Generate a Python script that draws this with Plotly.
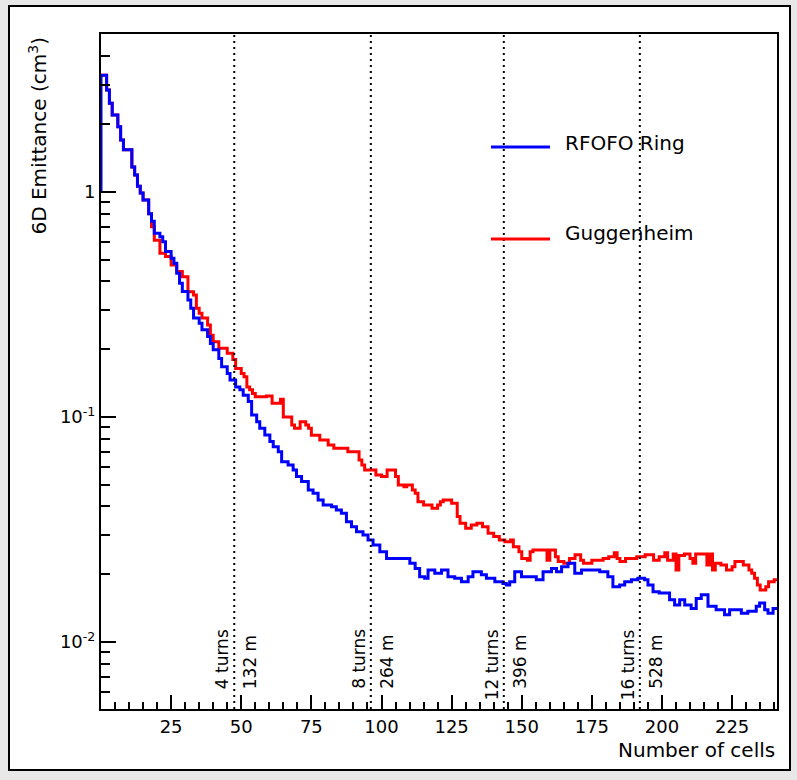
import plotly.graph_objects as go

# ---------------- data ----------------
blue_cells = [0, 0, 2, 3, 4, 6, 7, 8, 11, 12, 13, 14, 15, 17, 18, 19, 21, 22, 23, 25,
              26, 27, 28, 29, 31, 32, 33, 35, 36, 38, 39, 40, 42, 43, 45, 46, 48, 49.5,
              50.7, 52.5, 53.7, 55.5, 56.6, 58.4, 60.2, 61.4, 63.2, 64.4, 66.7, 68.5,
              69.7, 71.5, 73.9, 75.6, 77.4, 79.2, 82.2, 83.9, 85.7, 87.5, 89.3, 91.1,
              93.4, 95.2, 97.0, 99.4, 101.8, 110.1, 112, 113.6, 115.4, 116.6, 119,
              121.4, 123.7, 126.1, 128.5, 130.9, 132.6, 135.6, 137.4, 140.4, 143.3,
              144.5, 145.7, 147.5, 149.9, 155.2, 157.6, 160.6, 162.4, 164.2, 166.5,
              168.9, 171.3, 177.8, 180.7, 182.5, 184.9, 186.7, 189.1, 191.4, 193.8,
              195, 196.8, 199, 202.7, 204.5, 206.3, 208.1, 210.4, 212.2, 214, 216.4,
              219.3, 222.3, 224.1, 228.3, 230.6, 233.6, 234.8, 236.6, 237.8, 239.6, 241]
blue_vals = [1.0, 3.3, 2.84, 2.48, 2.2, 1.95, 1.70, 1.54, 1.29, 1.19, 1.06, 0.99, 0.92,
             0.80, 0.74, 0.655, 0.633, 0.60, 0.543, 0.507, 0.482, 0.435, 0.393, 0.361,
             0.331, 0.304, 0.275, 0.261, 0.244, 0.228, 0.212, 0.199, 0.182, 0.167,
             0.156, 0.146, 0.136, 0.132, 0.125, 0.117, 0.102, 0.0953, 0.0891, 0.0832,
             0.0777, 0.0738, 0.0701, 0.0633, 0.0612, 0.0581, 0.0543, 0.0516, 0.0474,
             0.0458, 0.0428, 0.0406, 0.0399, 0.0386, 0.0373, 0.0342, 0.0325, 0.0309,
             0.0299, 0.0284, 0.0270, 0.0252, 0.0235, 0.0224, 0.0212, 0.0195, 0.0192,
             0.0209, 0.0202, 0.0209, 0.0195, 0.0192, 0.0185, 0.0195, 0.0205, 0.0199,
             0.0192, 0.0185, 0.0182, 0.0179, 0.0185, 0.0205, 0.0195, 0.0189, 0.0205,
             0.0212, 0.0205, 0.0216, 0.0224, 0.0202, 0.0209, 0.0205, 0.0195, 0.0176,
             0.0179, 0.0185, 0.0189, 0.0192, 0.0189, 0.0179, 0.0167, 0.0165, 0.0154,
             0.0146, 0.0154, 0.0146, 0.0141, 0.0156, 0.0162, 0.0144, 0.0139, 0.0132,
             0.0139, 0.0134, 0.0137, 0.0144, 0.0149, 0.0139, 0.0134, 0.0141, 0.0141]

red_cells = [0, 2, 3, 4, 6, 7, 8, 11, 12, 13, 14, 15, 17, 18, 19, 21, 23, 25, 27, 29,
             31, 33, 34, 35, 36, 38, 39, 40, 42, 45, 47, 48, 50, 51, 52, 53, 54, 55, 59,
             61, 64, 65, 68, 69, 71, 73, 74, 75, 78, 81, 83, 88, 92, 93, 94, 98, 100,
             102, 105, 106, 108, 109, 111, 112, 113, 115, 118, 120, 121, 122, 125, 127,
             128, 130, 132, 134, 136, 138, 140, 142, 144, 146, 147, 149, 150, 152, 153,
             154, 159, 160, 162, 163, 165, 167, 169, 171, 172, 175, 179, 181, 183, 184,
             185, 187, 191, 194, 197, 199, 201, 202, 204, 205, 206, 208, 210, 211, 212,
             215, 216, 217, 218, 219, 221, 223, 225, 226, 229, 231, 232, 233, 234, 235,
             237, 238, 240, 241]
red_vals = [3.3, 2.84, 2.48, 2.2, 1.95, 1.70, 1.54, 1.29, 1.19, 1.06, 0.99, 0.92, 0.80,
            0.70, 0.61, 0.534, 0.516, 0.474, 0.443, 0.420, 0.360, 0.348, 0.304, 0.289,
            0.275, 0.256, 0.231, 0.216, 0.202, 0.192, 0.180, 0.164, 0.156, 0.151, 0.136,
            0.132, 0.127, 0.123, 0.124, 0.115, 0.120, 0.100, 0.092, 0.089, 0.0953, 0.092,
            0.089, 0.083, 0.079, 0.075, 0.0726, 0.0701, 0.0644, 0.0612, 0.0581, 0.0552,
            0.0543, 0.0581, 0.0543, 0.0499, 0.049, 0.0499, 0.0474, 0.0458, 0.042, 0.0406,
            0.0393, 0.0406, 0.042, 0.0428, 0.0413, 0.0361, 0.0337, 0.032, 0.0331, 0.0337,
            0.0325, 0.0304, 0.0294, 0.0284, 0.0279, 0.0284, 0.0265, 0.0252, 0.0235,
            0.0231, 0.0252, 0.0256, 0.0231, 0.0256, 0.0239, 0.0228, 0.0224, 0.0235,
            0.0244, 0.0231, 0.0224, 0.0231, 0.0235, 0.0239, 0.0249, 0.0235, 0.0228,
            0.0235, 0.0239, 0.0244, 0.0231, 0.0239, 0.0249, 0.0231, 0.0246, 0.0209,
            0.0242, 0.0246, 0.0235, 0.0224, 0.0246, 0.0246, 0.022, 0.0246, 0.0209,
            0.0224, 0.022, 0.0209, 0.0216, 0.0228, 0.022, 0.0209, 0.0202, 0.0192,
            0.0179, 0.017, 0.0176, 0.0185, 0.0189, 0.0189]

turn_cells = [47.5, 96.2, 143.6, 192.1]
turn_labels = ["4 turns", "8 turns", "12 turns", "16 turns"]
length_labels = ["132 m", "264 m", "396 m", "528 m"]

x_tick_vals = [25, 50, 75, 100, 125, 150, 175, 200, 225]
y_tick_vals = [0.01, 0.1, 1]
y_tick_text = ["10<sup>-2</sup>", "10<sup>-1</sup>", "1"]
y_minor_vals = [0.006, 0.007, 0.008, 0.009, 0.02, 0.03, 0.04, 0.05, 0.06, 0.07, 0.08,
                0.09, 0.2, 0.3, 0.4, 0.5, 0.6, 0.7, 0.8, 0.9, 2, 3, 4]

series_names = ["RFOFO Ring", "Guggenheim"]
series_colors = ["#0000ff", "#ff0000"]

# ---------------- figure ----------------
FONT = "DejaVu Sans"
W, H = 797, 780
L, R, T, B = 101, 20, 34, 71
PW, PH = W - L - R, H - T - B


def px_x(p):
    return (p - L) / PW


def px_y(p):
    return (H - B - p) / PH


fig = go.Figure()

fig.add_trace(go.Scatter(x=red_cells, y=red_vals, mode="lines", line_shape="hv",
                         line=dict(color=series_colors[1], width=3),
                         name=series_names[1], showlegend=False))
fig.add_trace(go.Scatter(x=blue_cells, y=blue_vals, mode="lines", line_shape="hv",
                         line=dict(color=series_colors[0], width=3),
                         name=series_names[0], showlegend=False))

shapes = []
# canvas frame
shapes.append(dict(type="rect", xref="paper", yref="paper", layer="below",
                   x0=px_x(9), x1=px_x(790), y0=px_y(770), y1=px_y(6),
                   fillcolor="white", line=dict(color="black", width=2)))
# dotted turn lines
for c in turn_cells:
    shapes.append(dict(type="line", xref="x", yref="paper", x0=c, x1=c, y0=0, y1=1,
                       line=dict(color="black", width=2, dash="2px,4px")))

annotations = []
for c, tl, ll in zip(turn_cells, turn_labels, length_labels):
    annotations.append(dict(x=c, y=px_y(627), xref="x", yref="paper", text=tl,
                            textangle=-90, showarrow=False, xanchor="center",
                            yanchor="top", xshift=-12,
                            font=dict(family=FONT, size=17, color="black")))
    annotations.append(dict(x=c, y=px_y(633), xref="x", yref="paper", text=ll,
                            textangle=-90, showarrow=False, xanchor="center",
                            yanchor="top", xshift=16,
                            font=dict(family=FONT, size=17, color="black")))

# legend (drawn manually to match layout)
for name, col, ly, ty in zip(series_names, series_colors, [147, 239], [143, 233]):
    shapes.append(dict(type="line", xref="paper", yref="paper",
                       x0=px_x(491), x1=px_x(550), y0=px_y(ly), y1=px_y(ly),
                       line=dict(color=col, width=3)))
    annotations.append(dict(x=px_x(563), y=px_y(ty), xref="paper", yref="paper",
                            text=name, showarrow=False, xanchor="left", yanchor="middle",
                            font=dict(family=FONT, size=20, color="black")))

# axis titles
annotations.append(dict(x=px_x(777), y=px_y(750), xref="paper", yref="paper",
                        text="Number of cells", showarrow=False, xanchor="right",
                        yanchor="middle", font=dict(family=FONT, size=20, color="black")))
annotations.append(dict(x=px_x(37), y=px_y(36), xref="paper", yref="paper",
                        text="6D Emittance (cm<sup>3</sup>)", textangle=-90,
                        showarrow=False, xanchor="center", yanchor="top",
                        font=dict(family=FONT, size=20, color="black")))

fig.update_layout(
    width=W, height=H,
    margin=dict(l=L, r=R, t=T, b=B, pad=0),
    paper_bgcolor="#e8e8e8",
    plot_bgcolor="white",
    shapes=shapes,
    annotations=annotations,
    showlegend=False,
    font=dict(family=FONT, color="black"),
)

fig.update_xaxes(
    range=[0, 241], tickmode="array", tickvals=x_tick_vals,
    ticks="inside", ticklen=14, tickwidth=2, tickcolor="black",
    showline=True, linecolor="black", linewidth=2, mirror=True,
    showgrid=False, zeroline=False,
    tickfont=dict(family=FONT, size=18, color="black"),
    minor=dict(dtick=5, tick0=0, ticks="inside", ticklen=7, tickwidth=2,
               tickcolor="black", showgrid=False),
)
fig.update_yaxes(
    type="log", range=[-2.298, 0.702], tickmode="array", tickvals=y_tick_vals,
    ticktext=y_tick_text,
    ticks="inside", ticklen=15, tickwidth=2, tickcolor="black",
    showline=True, linecolor="black", linewidth=2, mirror=True,
    showgrid=False, zeroline=False,
    tickfont=dict(family=FONT, size=18, color="black"),
    minor=dict(tickmode="array", tickvals=y_minor_vals, ticks="inside", ticklen=9,
               tickwidth=2, tickcolor="black", showgrid=False),
)

fig.write_html("out.html", config={"displayModeBar": False},
               post_script="document.body.style.margin='0';document.body.style.overflow='hidden';")
